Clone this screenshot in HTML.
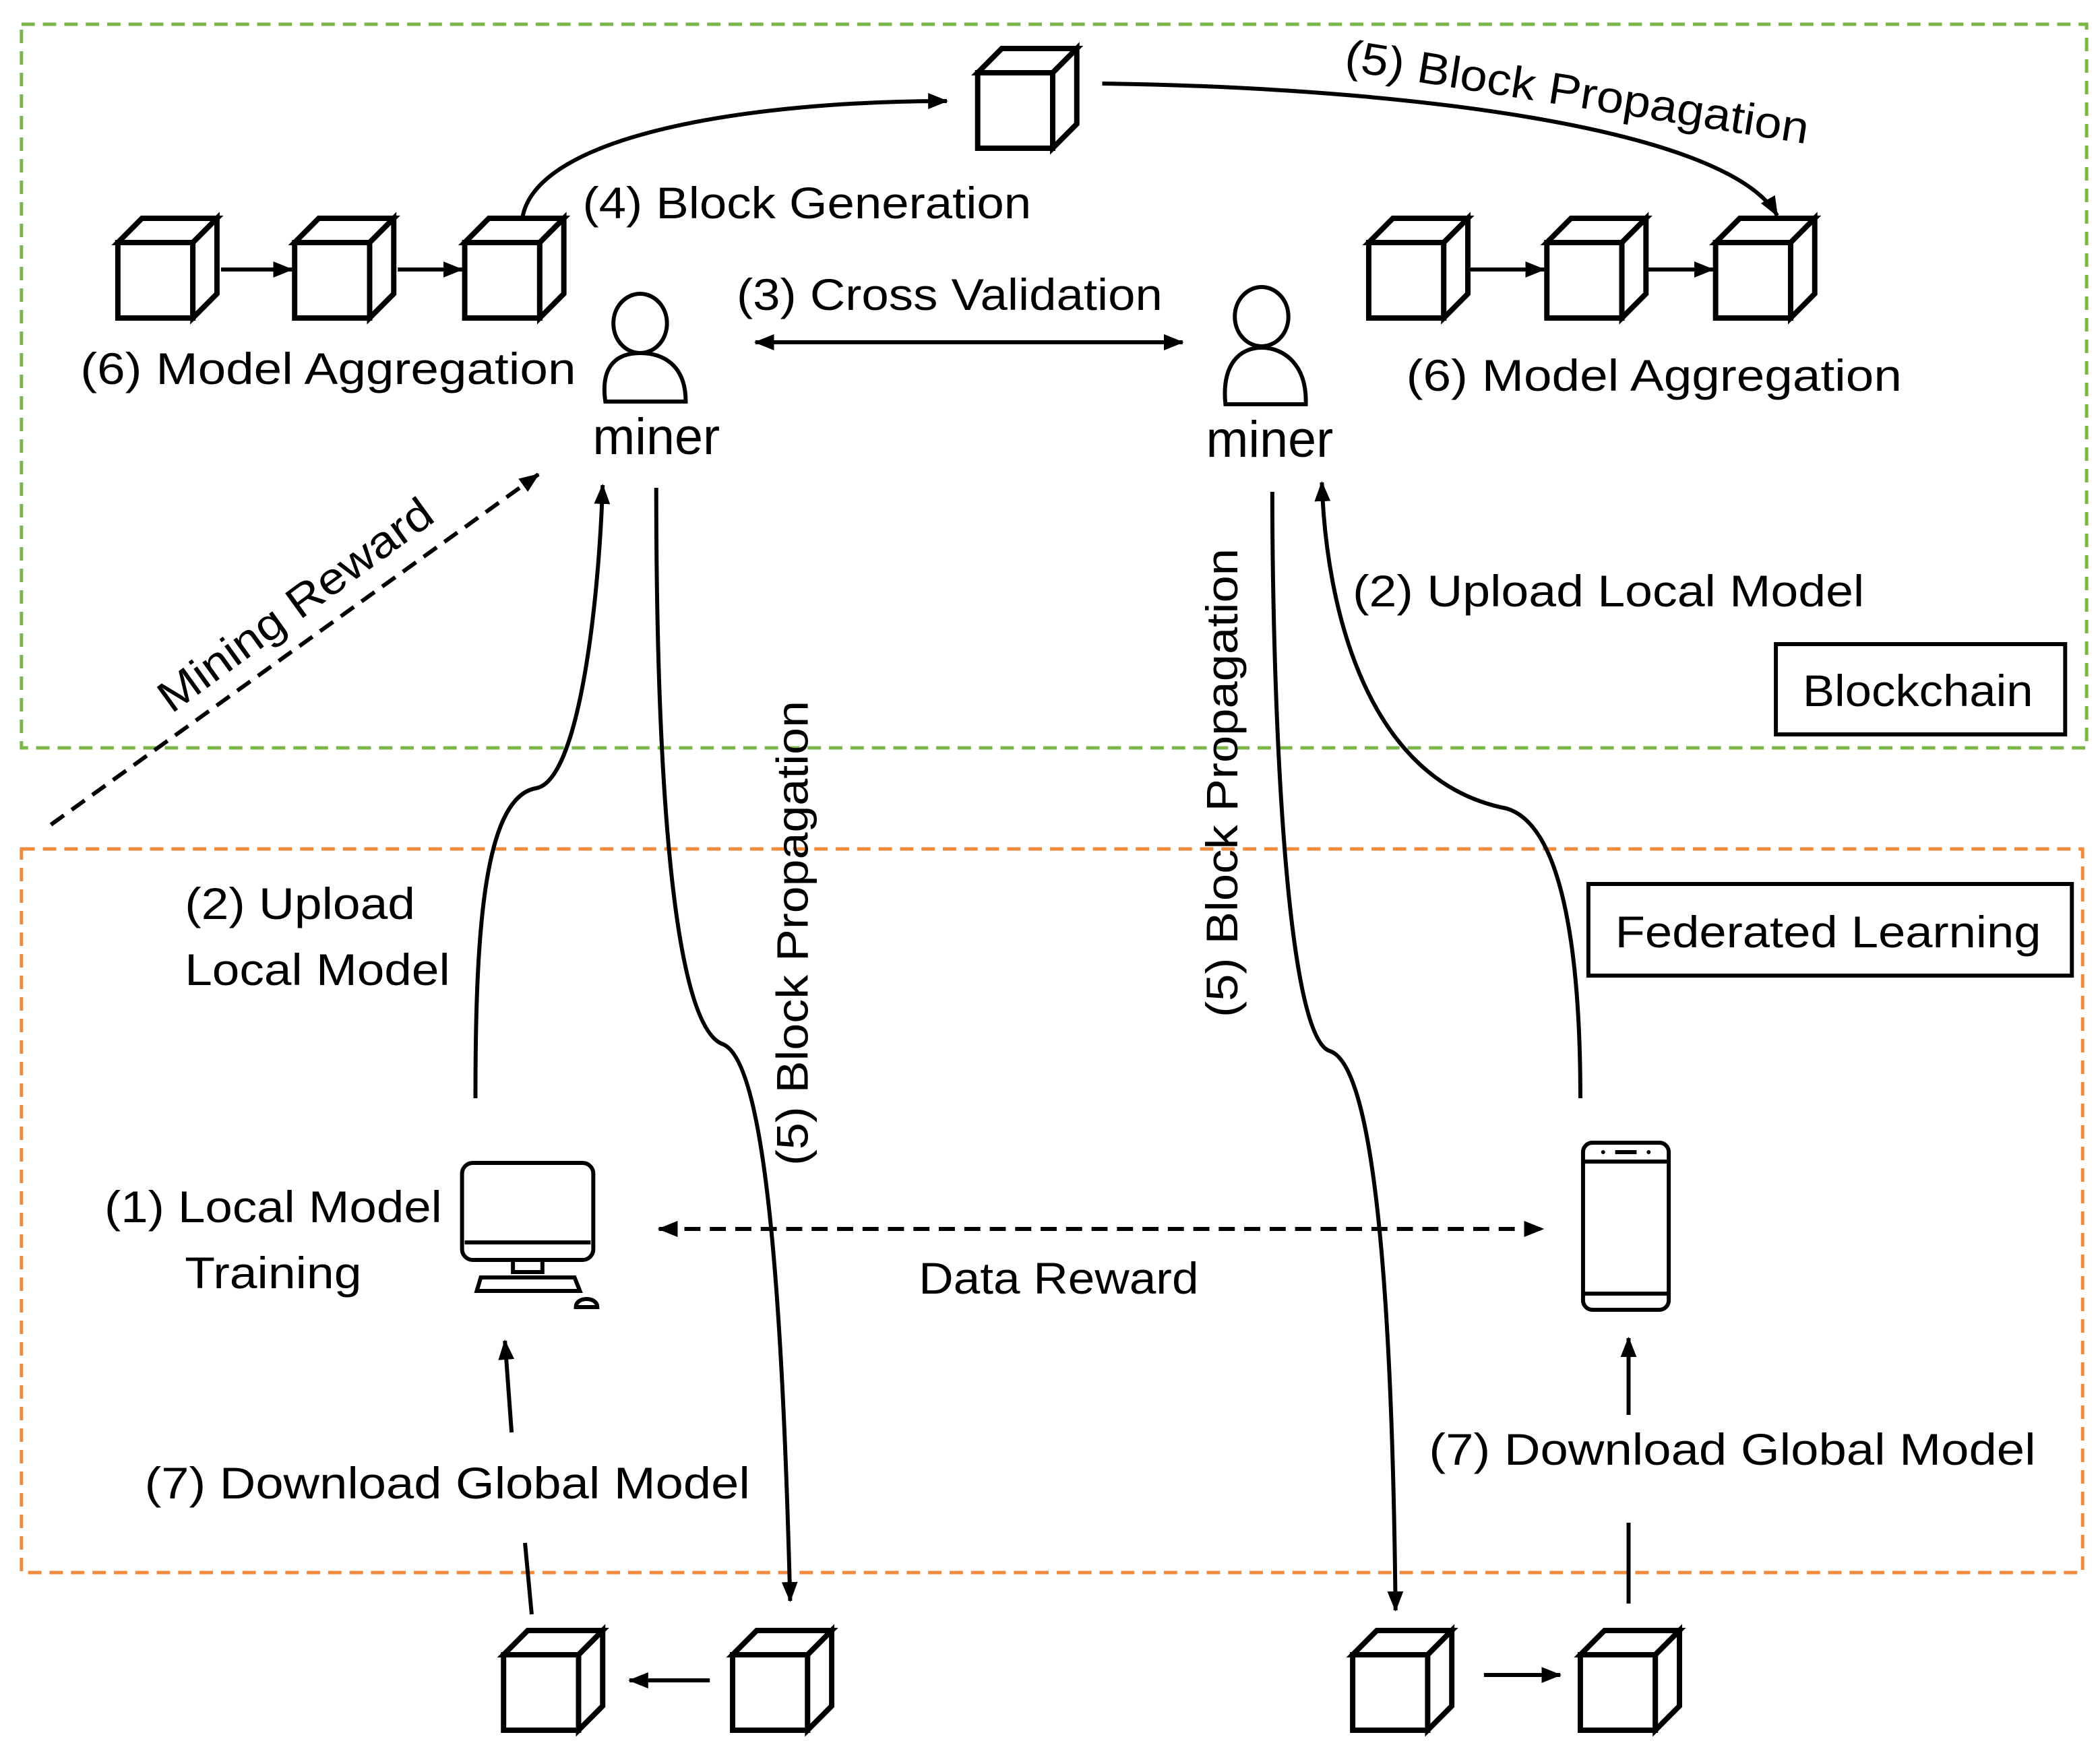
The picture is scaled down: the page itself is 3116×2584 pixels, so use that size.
<!DOCTYPE html>
<html><head><style>html,body{margin:0;padding:0;background:#fff}svg{display:block}</style></head><body>
<svg xmlns="http://www.w3.org/2000/svg" width="3116" height="2584" viewBox="0 0 1568 1292" preserveAspectRatio="none" font-family="Liberation Sans, sans-serif" font-size="33">
<defs>
<marker id="b" markerWidth="16" markerHeight="14" refX="14" refY="7" orient="auto-start-reverse" markerUnits="userSpaceOnUse"><path d="M0,1 L15,7 L0,13 z" fill="#000"/></marker>
<g id="c" fill="#fff" stroke="#000" stroke-width="4" stroke-linejoin="miter">
<rect x="0" y="18" width="56" height="56"/>
<path d="M0,18 L18,0 L74,0 L56,18 Z"/>
<path d="M56,18 L74,0 L74,56 L56,74 Z"/>
</g>
</defs>
<rect x="16" y="18" width="1542" height="537" fill="none" stroke="#7ab648" stroke-width="2.5" stroke-dasharray="10,6"/>
<rect x="16" y="630" width="1539" height="537" fill="none" stroke="#f08a3c" stroke-width="2.5" stroke-dasharray="10,6"/>
<rect x="1326" y="478" width="216" height="67" fill="#fff" stroke="#000" stroke-width="3"/>
<text x="1432" y="524" text-anchor="middle" textLength="172" lengthAdjust="spacingAndGlyphs">Blockchain</text>
<rect x="1186" y="656" width="361" height="68" fill="#fff" stroke="#000" stroke-width="3"/>
<text x="1365" y="703" text-anchor="middle" textLength="318" lengthAdjust="spacingAndGlyphs">Federated Learning</text>

<use href="#c" x="88" y="162"/><use href="#c" x="220" y="162"/><use href="#c" x="347" y="162"/>
<use href="#c" x="730" y="36"/>
<use href="#c" x="1022" y="162"/><use href="#c" x="1155" y="162"/><use href="#c" x="1281" y="162"/>
<use href="#c" x="376" y="1210"/><use href="#c" x="547" y="1210"/><use href="#c" x="1010" y="1210"/><use href="#c" x="1180" y="1210"/>

<g fill="none" stroke="#000" stroke-width="3">
<path d="M165,200 H218" marker-end="url(#b)"/>
<path d="M297,200 H345" marker-end="url(#b)"/>
<path d="M1098,200 H1153" marker-end="url(#b)"/>
<path d="M1230,200 H1279" marker-end="url(#b)"/>
<path d="M530,1247 H470" marker-end="url(#b)"/>
<path d="M1108,1243 H1165" marker-end="url(#b)"/>
<path d="M390,162 C400,100 560,75 707,75" marker-end="url(#b)"/>
<path d="M823,62 C1050,65 1290,95 1327,160" marker-end="url(#b)"/>
<path d="M564,254 H883" marker-start="url(#b)" marker-end="url(#b)"/>
<path d="M355,815 C355,700 360,592 400,585 C432,580 447,450 450,360" marker-end="url(#b)"/>
<path d="M490,362 C490,500 495,760 540,775 C575,790 585,1000 590,1188" marker-end="url(#b)"/>
<path d="M950,365 C950,500 958,770 993,780 C1030,792 1040,1000 1042,1195" marker-end="url(#b)"/>
<path d="M1180,815 C1180,700 1165,612 1125,600 C1020,580 990,450 987,358" marker-end="url(#b)"/>
<path d="M38,612 L402,352" stroke-dasharray="12,7" marker-end="url(#b)"/>
<path d="M492,912 H1152" stroke-dasharray="12,7" marker-start="url(#b)" marker-end="url(#b)"/>
<path d="M397,1198 L392,1145"/>
<path d="M382,1063 L377,995" marker-end="url(#b)"/>
<path d="M1216,1190 V1130"/>
<path d="M1216,1050 V993" marker-end="url(#b)"/>
<ellipse cx="478" cy="240" rx="20" ry="22"/>
<path d="M452,298 C448,270 462,262 478,262 C494,262 512,270 512,298 Z"/>
<ellipse cx="942" cy="235" rx="20" ry="22"/>
<path d="M915,300 C912,270 926,258 942,258 C958,258 976,270 975,300 Z"/>
<rect x="345" y="863" width="98" height="72" rx="8"/>
<path d="M347,922 H441"/>
<rect x="383" y="935" width="22" height="9"/>
<path d="M356,958 L359,948 H429 L433,958 Z"/>
<path d="M430,970 C430,962 446,962 446,970 Z"/>
<rect x="1182" y="848" width="64" height="124" rx="7"/>
<path d="M1183,862 H1245 M1183,960 H1245"/>
<path d="M1206,855 H1222"/>
</g>
<circle cx="1197" cy="855" r="1.5"/><circle cx="1231" cy="855" r="1.5"/>

<text x="490" y="337" text-anchor="middle" font-size="38">miner</text>
<text x="948" y="339" text-anchor="middle" font-size="38">miner</text>
<text x="60" y="285" textLength="370" lengthAdjust="spacingAndGlyphs">(6) Model Aggregation</text>
<text x="1050" y="290" textLength="370" lengthAdjust="spacingAndGlyphs">(6) Model Aggregation</text>
<text x="435" y="162" textLength="335" lengthAdjust="spacingAndGlyphs">(4) Block Generation</text>
<text x="550" y="230" textLength="318" lengthAdjust="spacingAndGlyphs">(3) Cross Validation</text>
<text x="1010" y="450" textLength="382" lengthAdjust="spacingAndGlyphs">(2) Upload Local Model</text>
<text x="138" y="682" textLength="172" lengthAdjust="spacingAndGlyphs">(2) Upload</text>
<text x="138" y="731" textLength="198" lengthAdjust="spacingAndGlyphs">Local Model</text>
<text x="78" y="907" textLength="252" lengthAdjust="spacingAndGlyphs">(1) Local Model</text>
<text x="138" y="956" textLength="132" lengthAdjust="spacingAndGlyphs">Training</text>
<text x="686" y="960" textLength="209" lengthAdjust="spacingAndGlyphs">Data Reward</text>
<text x="108" y="1112" textLength="452" lengthAdjust="spacingAndGlyphs">(7) Download Global Model</text>
<text x="1067" y="1087" textLength="453" lengthAdjust="spacingAndGlyphs">(7) Download Global Model</text>
<text transform="translate(603,865) rotate(-90)" textLength="345" lengthAdjust="spacingAndGlyphs">(5) Block Propagation</text>
<text transform="translate(924,755) rotate(-90)" textLength="348" lengthAdjust="spacingAndGlyphs">(5) Block Propagation</text>
<text transform="translate(128,530) rotate(-36)" textLength="245" lengthAdjust="spacingAndGlyphs">Mining Reward</text>
<text transform="translate(1003,52) rotate(9)" textLength="350" lengthAdjust="spacingAndGlyphs">(5) Block Propagation</text>
</svg>
</body></html>
